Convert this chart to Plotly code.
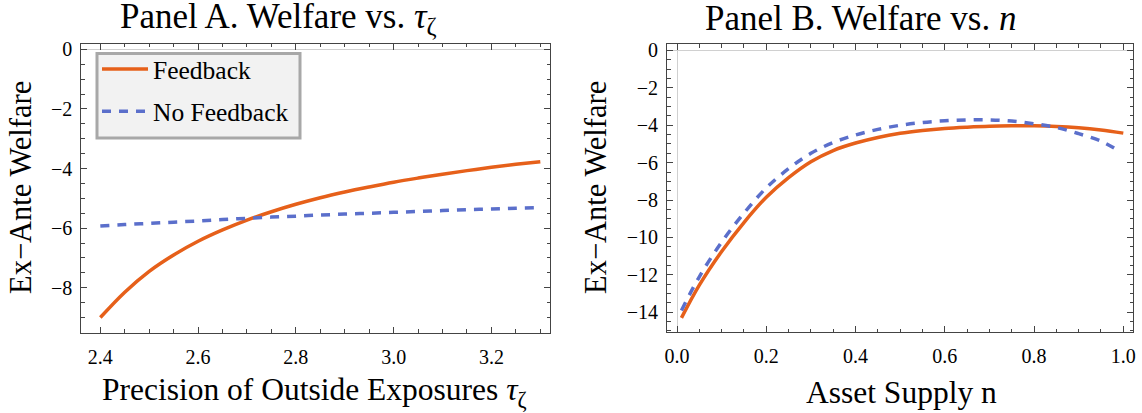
import plotly.graph_objects as go

# ---------------- data ----------------
tau = [2.40, 2.45, 2.50, 2.55, 2.60, 2.65, 2.70, 2.75, 2.80, 2.85,
       2.90, 2.95, 3.00, 3.05, 3.10, 3.15, 3.20, 3.25, 3.30]
feedback_tau = [-9.00, -8.15, -7.45, -6.90, -6.44, -6.06, -5.73, -5.45, -5.20, -4.98,
                -4.79, -4.62, -4.46, -4.32, -4.19, -4.07, -3.96, -3.86, -3.77]
nofeedback_tau = [-5.93, -5.88, -5.84, -5.80, -5.76, -5.71, -5.67, -5.63, -5.60, -5.56,
                  -5.53, -5.50, -5.47, -5.44, -5.41, -5.38, -5.36, -5.33, -5.31]

n_feedback = [0.01, 0.05, 0.10, 0.15, 0.20, 0.25, 0.30, 0.35, 0.40, 0.45, 0.50,
              0.55, 0.60, 0.65, 0.70, 0.75, 0.80, 0.85, 0.90, 0.95, 1.00]
feedback_n = [-14.30, -12.55, -10.75, -9.20, -7.85, -6.80, -5.95, -5.35, -4.95, -4.65, -4.43,
              -4.28, -4.17, -4.10, -4.05, -4.03, -4.03, -4.06, -4.13, -4.25, -4.42]
n_nofeedback = [0.01, 0.05, 0.10, 0.15, 0.20, 0.25, 0.30, 0.35, 0.40, 0.45, 0.50,
                0.55, 0.60, 0.65, 0.70, 0.75, 0.80, 0.85, 0.90, 0.95, 0.985]
nofeedback_n = [-13.90, -12.10, -10.25, -8.70, -7.35, -6.32, -5.50, -4.92, -4.52, -4.22, -4.00,
                -3.85, -3.76, -3.71, -3.71, -3.77, -3.92, -4.12, -4.45, -4.85, -5.30]

titles = ["Panel A. Welfare vs. <i>τ</i><sub>ζ</sub>", "Panel B. Welfare vs. <i>n</i>"]
xtitles = ["Precision of Outside Exposures <i>τ</i><sub>ζ</sub>", "Asset Supply n"]
ytitle = "Ex\u2212Ante Welfare"
series_names = ["Feedback", "No Feedback"]

# ---------------- style ----------------
ORANGE = "#E6601A"
BLUE = "#5B6FCB"
FONT = "Liberation Serif, Times New Roman, serif"
W, H = 1142, 413

fig = go.Figure()

fig.add_trace(go.Scatter(x=tau, y=feedback_tau, mode="lines", name=series_names[0],
                         line=dict(color=ORANGE, width=3.5, shape="spline"),
                         xaxis="x", yaxis="y", legendgroup="a"))
fig.add_trace(go.Scatter(x=tau, y=nofeedback_tau, mode="lines", name=series_names[1],
                         line=dict(color=BLUE, width=3.5, dash="9px,8px", shape="spline"),
                         xaxis="x", yaxis="y", legendgroup="b"))
fig.add_trace(go.Scatter(x=n_feedback, y=feedback_n, mode="lines", name=series_names[0],
                         line=dict(color=ORANGE, width=3.5, shape="spline"),
                         xaxis="x2", yaxis="y2", showlegend=False))
fig.add_trace(go.Scatter(x=n_nofeedback, y=nofeedback_n, mode="lines", name=series_names[1],
                         line=dict(color=BLUE, width=3.5, dash="9px,8px", shape="spline"),
                         xaxis="x2", yaxis="y2", showlegend=False))


def ax(domain, rng, dtick, tick0, minor, fmt, anchor, zeroline):
    return dict(
        domain=domain, range=rng, dtick=dtick, tick0=tick0, tickformat=fmt,
        anchor=anchor, showgrid=False, zeroline=zeroline, zerolinecolor="#d0d0d0",
        zerolinewidth=1, showline=True, linecolor="#444", linewidth=1, mirror="allticks",
        ticks="inside", ticklen=6, tickcolor="#444", tickwidth=1,
        minor=dict(dtick=minor, tick0=tick0, ticks="inside", ticklen=3.5,
                   tickcolor="#444", tickwidth=1, showgrid=False),
        tickfont=dict(family=FONT, size=20, color="black"),
        automargin=False, fixedrange=True,
    )


xA = [81.3 / W, 550 / W]
xB = [667 / W, 1133.3 / W]
yA = [1 - 332.7 / H, 1 - 43.7 / H]
yB = [1 - 332.3 / H, 1 - 44.3 / H]

fig.update_layout(
    width=W, height=H,
    margin=dict(l=0, r=0, t=0, b=0),
    paper_bgcolor="white", plot_bgcolor="white",
    font=dict(family=FONT, color="black"),
    xaxis=ax(xA, [2.3611, 3.3198], 0.2, 2.4, 0.05, ".1f", "y", False),
    yaxis=ax(yA, [-9.51, 0.19], 2, 0, 0.5, "d", "x", True),
    xaxis2=ax(xB, [-0.0224, 1.0224], 0.2, 0, 0.05, ".1f", "y2", True),
    yaxis2=ax(yB, [-15.07, 0.33], 2, 0, 0.5, "d", "x2", True),
    showlegend=True,
    legend=dict(x=97 / W, y=1 - 46 / H, xanchor="left", yanchor="top",
                bgcolor="rgba(0,0,0,0)", borderwidth=0,
                font=dict(family=FONT, size=25.5, color="black"),
                tracegroupgap=6, itemwidth=46),
)
# legend frame (layout decoration)
fig.add_shape(type="rect", xref="paper", yref="paper", layer="above",
              x0=97 / W, x1=300 / W, y0=1 - 138 / H, y1=1 - 53.5 / H,
              fillcolor="#f2f2f2", line=dict(color="#a8a8a8", width=3))
fig.update_xaxes(ticklabelstandoff=6)
fig.update_yaxes(ticklabelstandoff=4)

annotations = [
    dict(text=titles[0], x=278.5 / W, y=1 - 18 / H, size=35),
    dict(text=titles[1], x=860 / W, y=1 - 18 / H, size=35),
    dict(text=xtitles[0], x=314.5 / W, y=1 - 392 / H, size=31.5),
    dict(text=xtitles[1], x=901.5 / W, y=1 - 392 / H, size=31.5),
    dict(text=ytitle, x=21 / W, y=1 - 188 / H, textangle=-90, size=30.5),
    dict(text=ytitle, x=596 / W, y=1 - 188 / H, textangle=-90, size=30.5),
]
for a in annotations:
    fig.add_annotation(xref="paper", yref="paper", showarrow=False,
                       xanchor="center", yanchor="middle",
                       font=dict(family=FONT, color="black", size=a["size"]),
                       text=a["text"], x=a["x"], y=a["y"],
                       textangle=a.get("textangle", 0))

fig.write_html("out.html", config={"displayModeBar": False},
               post_script="document.body.style.margin='0px';"
                           "document.body.style.overflow='hidden';")
